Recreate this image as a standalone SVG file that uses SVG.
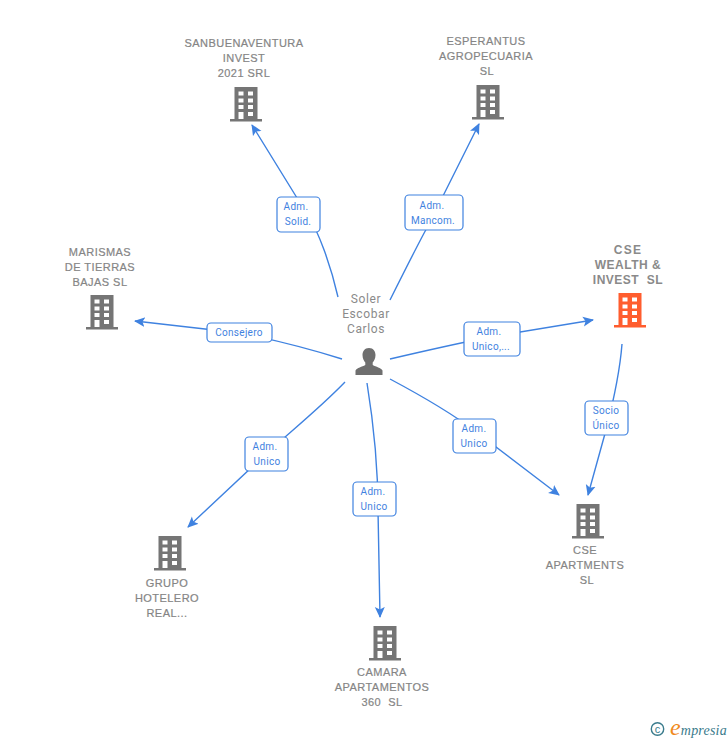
<svg xmlns="http://www.w3.org/2000/svg" width="728" height="740" viewBox="0 0 728 740">
<style>
.n{font-family:"Liberation Sans",Arial,sans-serif;font-size:11px;fill:#858585;stroke:#858585;stroke-width:.2px;text-anchor:middle;letter-spacing:.45px}
.h{font-family:"Liberation Sans",Arial,sans-serif;font-size:12px;font-weight:bold;fill:#8a8a8a;text-anchor:middle;letter-spacing:.5px}
.p{font-family:"Roboto","Liberation Sans",sans-serif;font-size:12px;fill:#8a8a8a;text-anchor:middle;letter-spacing:.6px}
.l{font-family:"Roboto","Liberation Sans",sans-serif;font-size:10px;fill:#3f82e0;text-anchor:middle;letter-spacing:.3px}
.c{fill:none;stroke:#3f82e0;stroke-width:1.4;marker-end:url(#a)}
.b{fill:#fff;stroke:#3f82e0;stroke-width:1.2}
</style>
<defs>
<marker id="a" markerUnits="userSpaceOnUse" markerWidth="12" markerHeight="12" refX="10" refY="5" orient="auto" viewBox="0 0 12 10"><path d="M0 0L11 5L0 10L2.500 5Z" fill="#3f82e0"/></marker>
<symbol id="bld" overflow="visible"><path fill-rule="evenodd" d="M4.500 0H27.500V32H32V34.500H0V32H4.500ZM8.500 4.500V8.500H13.500V4.500ZM18 4.500V8.500H23V4.500ZM8.500 11.500V15.500H13.500V11.500ZM18 11.500V15.500H23V11.500ZM8.500 18V22H13.500V18ZM18 18V22H23V18ZM8.500 25V32H13.500V25ZM18 25V29H23V25Z"/></symbol>
</defs>
<rect width="728" height="740" fill="#fff"/>
<g id="connectors">
<path class="c" d="M338 297C330 262 318 232 310 219L252 125"/>
<path class="c" d="M390 300C405 270 420 240 428 226L479 124"/>
<path class="c" d="M342 359C310 349 285 342 240 333L135 321"/>
<path class="c" d="M390 359C420 352 450 345 490 337L593 320"/>
<path class="c" d="M622 344C620 370 615 395 606 430L588 495"/>
<path class="c" d="M390 379C420 395 450 412 475 431L559 495"/>
<path class="c" d="M367 383C373 420 378 460 378 510L380 617"/>
<path class="c" d="M345 382C320 408 290 432 267 453L188 527"/>
</g>
<g id="edge-solid"><rect class="b" x="277" y="197" width="43" height="35" rx="4"/><text class="l" x="296" y="210">Adm.</text><text class="l" x="298" y="225">Solid.</text></g>
<g id="edge-mancom"><rect class="b" x="405" y="195" width="58" height="35" rx="4"/><text class="l" x="432" y="209">Adm.</text><text class="l" x="433" y="224">Mancom.</text></g>
<g id="edge-consejero"><rect class="b" x="207" y="323" width="65" height="19" rx="4"/><text class="l" x="239" y="336">Consejero</text></g>
<g id="edge-unico1"><rect class="b" x="464" y="322" width="56" height="34" rx="4"/><text class="l" x="489" y="335">Adm.</text><text class="l" x="491" y="350">Unico,...</text></g>
<g id="edge-socio"><rect class="b" x="585" y="401" width="43" height="34" rx="4"/><text class="l" x="606" y="414">Socio</text><text class="l" x="606" y="429">Único</text></g>
<g id="edge-unico2"><rect class="b" x="453" y="419" width="43" height="34" rx="4"/><text class="l" x="474" y="432">Adm.</text><text class="l" x="474" y="447">Unico</text></g>
<g id="edge-unico3"><rect class="b" x="353" y="482" width="43" height="34" rx="4"/><text class="l" x="373" y="495">Adm.</text><text class="l" x="374" y="510">Unico</text></g>
<g id="edge-unico4"><rect class="b" x="245" y="437" width="43" height="34" rx="4"/><text class="l" x="265" y="450">Adm.</text><text class="l" x="267" y="465">Unico</text></g>
<g id="person"><text class="p" x="366" y="303">Soler</text><text class="p" x="366" y="318">Escobar</text><text class="p" x="366" y="333">Carlos</text><path fill="#6f6f6f" d="M369 348C373.500 348 375.500 351.500 375.500 355C375.500 358.500 374 361 372.700 362.500V365C376 367 381 367.500 382.500 370.500V375H355.500V370.500C357 367.500 362 367 365.300 365V362.500C364 361 362.500 358.500 362.500 355C362.500 351.500 364.500 348 369 348Z"/></g>
<g id="sanbuenaventura"><text class="n" x="244" y="47">SANBUENAVENTURA</text><text class="n" x="244" y="62">INVEST</text><text class="n" x="244" y="77">2021 SRL</text><use href="#bld" x="230" y="87" fill="#757575"/></g>
<g id="esperantus"><text class="n" x="486" y="45">ESPERANTUS</text><text class="n" x="486" y="60">AGROPECUARIA</text><text class="n" x="487" y="75">SL</text><use href="#bld" x="472" y="85" fill="#757575"/></g>
<g id="marismas"><text class="n" x="100" y="256">MARISMAS</text><text class="n" x="100" y="271">DE TIERRAS</text><text class="n" x="100" y="286">BAJAS SL</text><use href="#bld" x="86" y="295" fill="#757575"/></g>
<g id="cse-wealth"><text class="h" x="628" y="254" style="letter-spacing:1.300px">CSE</text><text class="h" x="628" y="269">WEALTH &amp;</text><text class="h" x="628" y="284" xml:space="preserve">INVEST  SL</text><use href="#bld" x="614" y="293" fill="#ff5d2e"/></g>
<g id="cse-apartments"><use href="#bld" x="572" y="504" fill="#757575"/><text class="n" x="585" y="554">CSE</text><text class="n" x="585" y="569">APARTMENTS</text><text class="n" x="587" y="584">SL</text></g>
<g id="camara"><use href="#bld" x="369" y="626" fill="#757575"/><text class="n" x="382" y="676">CAMARA</text><text class="n" x="382" y="691">APARTAMENTOS</text><text class="n" x="382" y="706" xml:space="preserve">360  SL</text></g>
<g id="grupo"><use href="#bld" x="154" y="536" fill="#757575"/><text class="n" x="167" y="587">GRUPO</text><text class="n" x="167" y="602">HOTELERO</text><text class="n" x="167" y="617">REAL...</text></g>
<g id="logo"><circle cx="657.500" cy="729" r="6.200" fill="none" stroke="#3a7b8c" stroke-width="1.400"/><text x="657.500" y="733" text-anchor="middle" style="font-family:'Liberation Sans',sans-serif;font-size:11px;fill:#3a7b8c">c</text><text x="670" y="735" style="font-family:'Liberation Serif',serif;font-style:italic;font-size:14px;fill:#3a7b8c;letter-spacing:.2px"><tspan style="font-size:24px;fill:#f08a1c">e</tspan><tspan>mpresia</tspan></text></g>
</svg>
